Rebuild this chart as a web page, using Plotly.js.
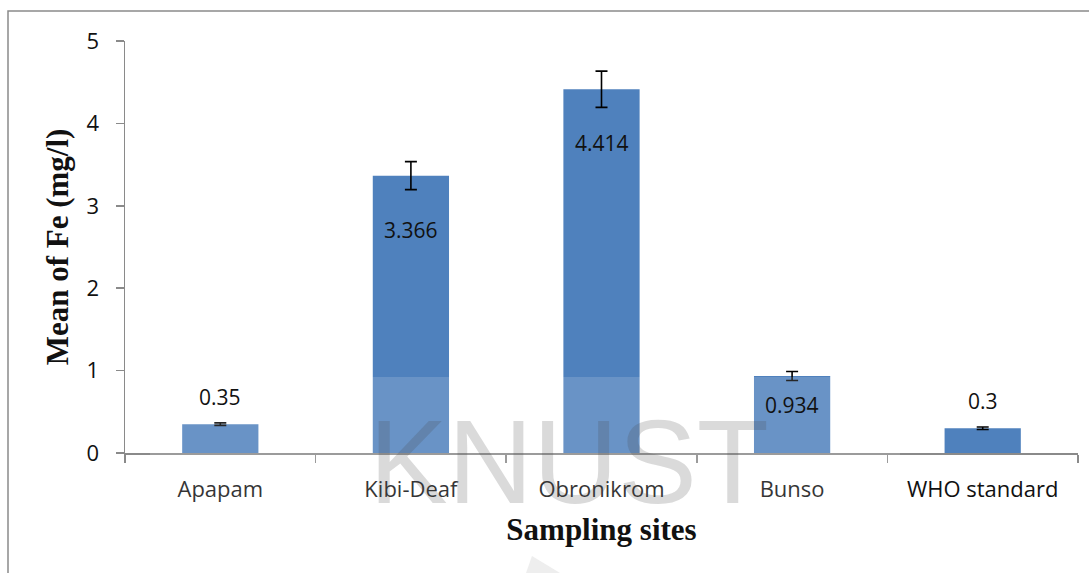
<!DOCTYPE html>
<html>
<head>
<meta charset="utf-8">
<script src="https://cdn.plot.ly/plotly-3.0.1.min.js"></script>
<style>html,body{margin:0;padding:0;background:#fff;}#chart{width:1089px;height:573px;}</style>
</head>
<body>
<div id="chart"></div>
<script>
// ---- data ----
const sites = ["Apapam", "Kibi-Deaf", "Obronikrom", "Bunso", "WHO standard"];
const meanFe = [0.35, 3.366, 4.414, 0.934, 0.3];
const errFe = [0.015, 0.17, 0.22, 0.055, 0.015];
const yTicks = [0, 1, 2, 3, 4, 5];

// ---- layout geometry ----
const W = 1089, H = 573;
const M = {l: 125, r: 11, t: 41, b: 120};
const PW = W - M.l - M.r, PH = H - M.t - M.b;
const px = x => (x - M.l) / PW;
const py = y => (H - M.b - y) / PH;

const tickFont = {family: "Open Sans, Noto Sans, sans-serif", size: 22, color: "#111"};
const titleFont = {family: "Liberation Serif, Times New Roman, serif", size: 31, color: "#111", weight: "bold"};

function labelShift(v) {
  if (v < 0.5) return 27;
  if (v > 3) return -54;
  return -29;
}

const trace = {
  type: "bar",
  x: sites,
  y: meanFe,
  marker: {color: "#4F81BD", line: {width: 0}},
  error_y: {type: "data", array: errFe, visible: true, color: "#000", thickness: 1.6, width: 6},
  hoverinfo: "x+y"
};

const annotations = sites.map((s, i) => ({
  x: s, y: meanFe[i], xref: "x", yref: "y",
  text: String(meanFe[i]), showarrow: false,
  yshift: labelShift(meanFe[i]),
  font: {family: "Open Sans, Noto Sans, sans-serif", size: 21, color: "#111"}
}));

// watermark text
annotations.push({
  xref: "paper", yref: "paper", x: px(569), y: py(462),
  xanchor: "center", yanchor: "middle",
  text: "KNUST", showarrow: false,
  font: {family: "Liberation Sans, Arial, sans-serif", size: 118, color: "rgba(70,70,70,0.2)"}
});

const shapes = [
  // outer frame (top and left)
  {type: "path", xref: "paper", yref: "paper",
   path: `M ${px(8)} ${py(573)} L ${px(8)} ${py(11)} L ${px(1089)} ${py(11)}`,
   line: {color: "#8a8a8a", width: 1.5}, layer: "above"},
  // watermark veil
  {type: "rect", xref: "paper", yref: "paper",
   x0: px(150), x1: px(900), y0: py(573), y1: py(377),
   fillcolor: "rgba(255,255,255,0.15)", line: {width: 0}, layer: "above"},
  // watermark logo fragment
  {type: "path", xref: "paper", yref: "paper",
   path: `M ${px(526)} ${py(573)} L ${px(532)} ${py(556)} L ${px(560)} ${py(573)} Z`,
   fillcolor: "rgba(215,215,215,0.5)", line: {width: 0}, layer: "below"}
];

const layout = {
  width: W, height: H,
  margin: M,
  paper_bgcolor: "#fff", plot_bgcolor: "#fff",
  showlegend: false,
  bargap: 0.6,
  xaxis: {
    type: "category",
    range: [-0.5, sites.length - 0.5],
    showline: true, linecolor: "#8a8a8a", linewidth: 1.5,
    ticks: "outside", tickson: "boundaries", ticklen: 8, tickcolor: "#8a8a8a", tickwidth: 1.5,
    tickfont: tickFont, ticklabelstandoff: 16,
    showgrid: false, zeroline: false,
    title: {text: "Sampling sites", font: titleFont, standoff: 16}
  },
  yaxis: {
    range: [0, 5],
    tickvals: yTicks,
    showline: true, linecolor: "#8a8a8a", linewidth: 1.5,
    ticks: "outside", ticklen: 8, tickcolor: "#8a8a8a", tickwidth: 1.5,
    tickfont: tickFont, ticklabelstandoff: 12,
    showgrid: false, zeroline: false,
    title: {text: "Mean of Fe (mg/l)", font: titleFont, standoff: 8}
  },
  annotations: annotations,
  shapes: shapes
};

Plotly.newPlot("chart", [trace], layout, {displayModeBar: false, staticPlot: true});
</script>
</body>
</html>
